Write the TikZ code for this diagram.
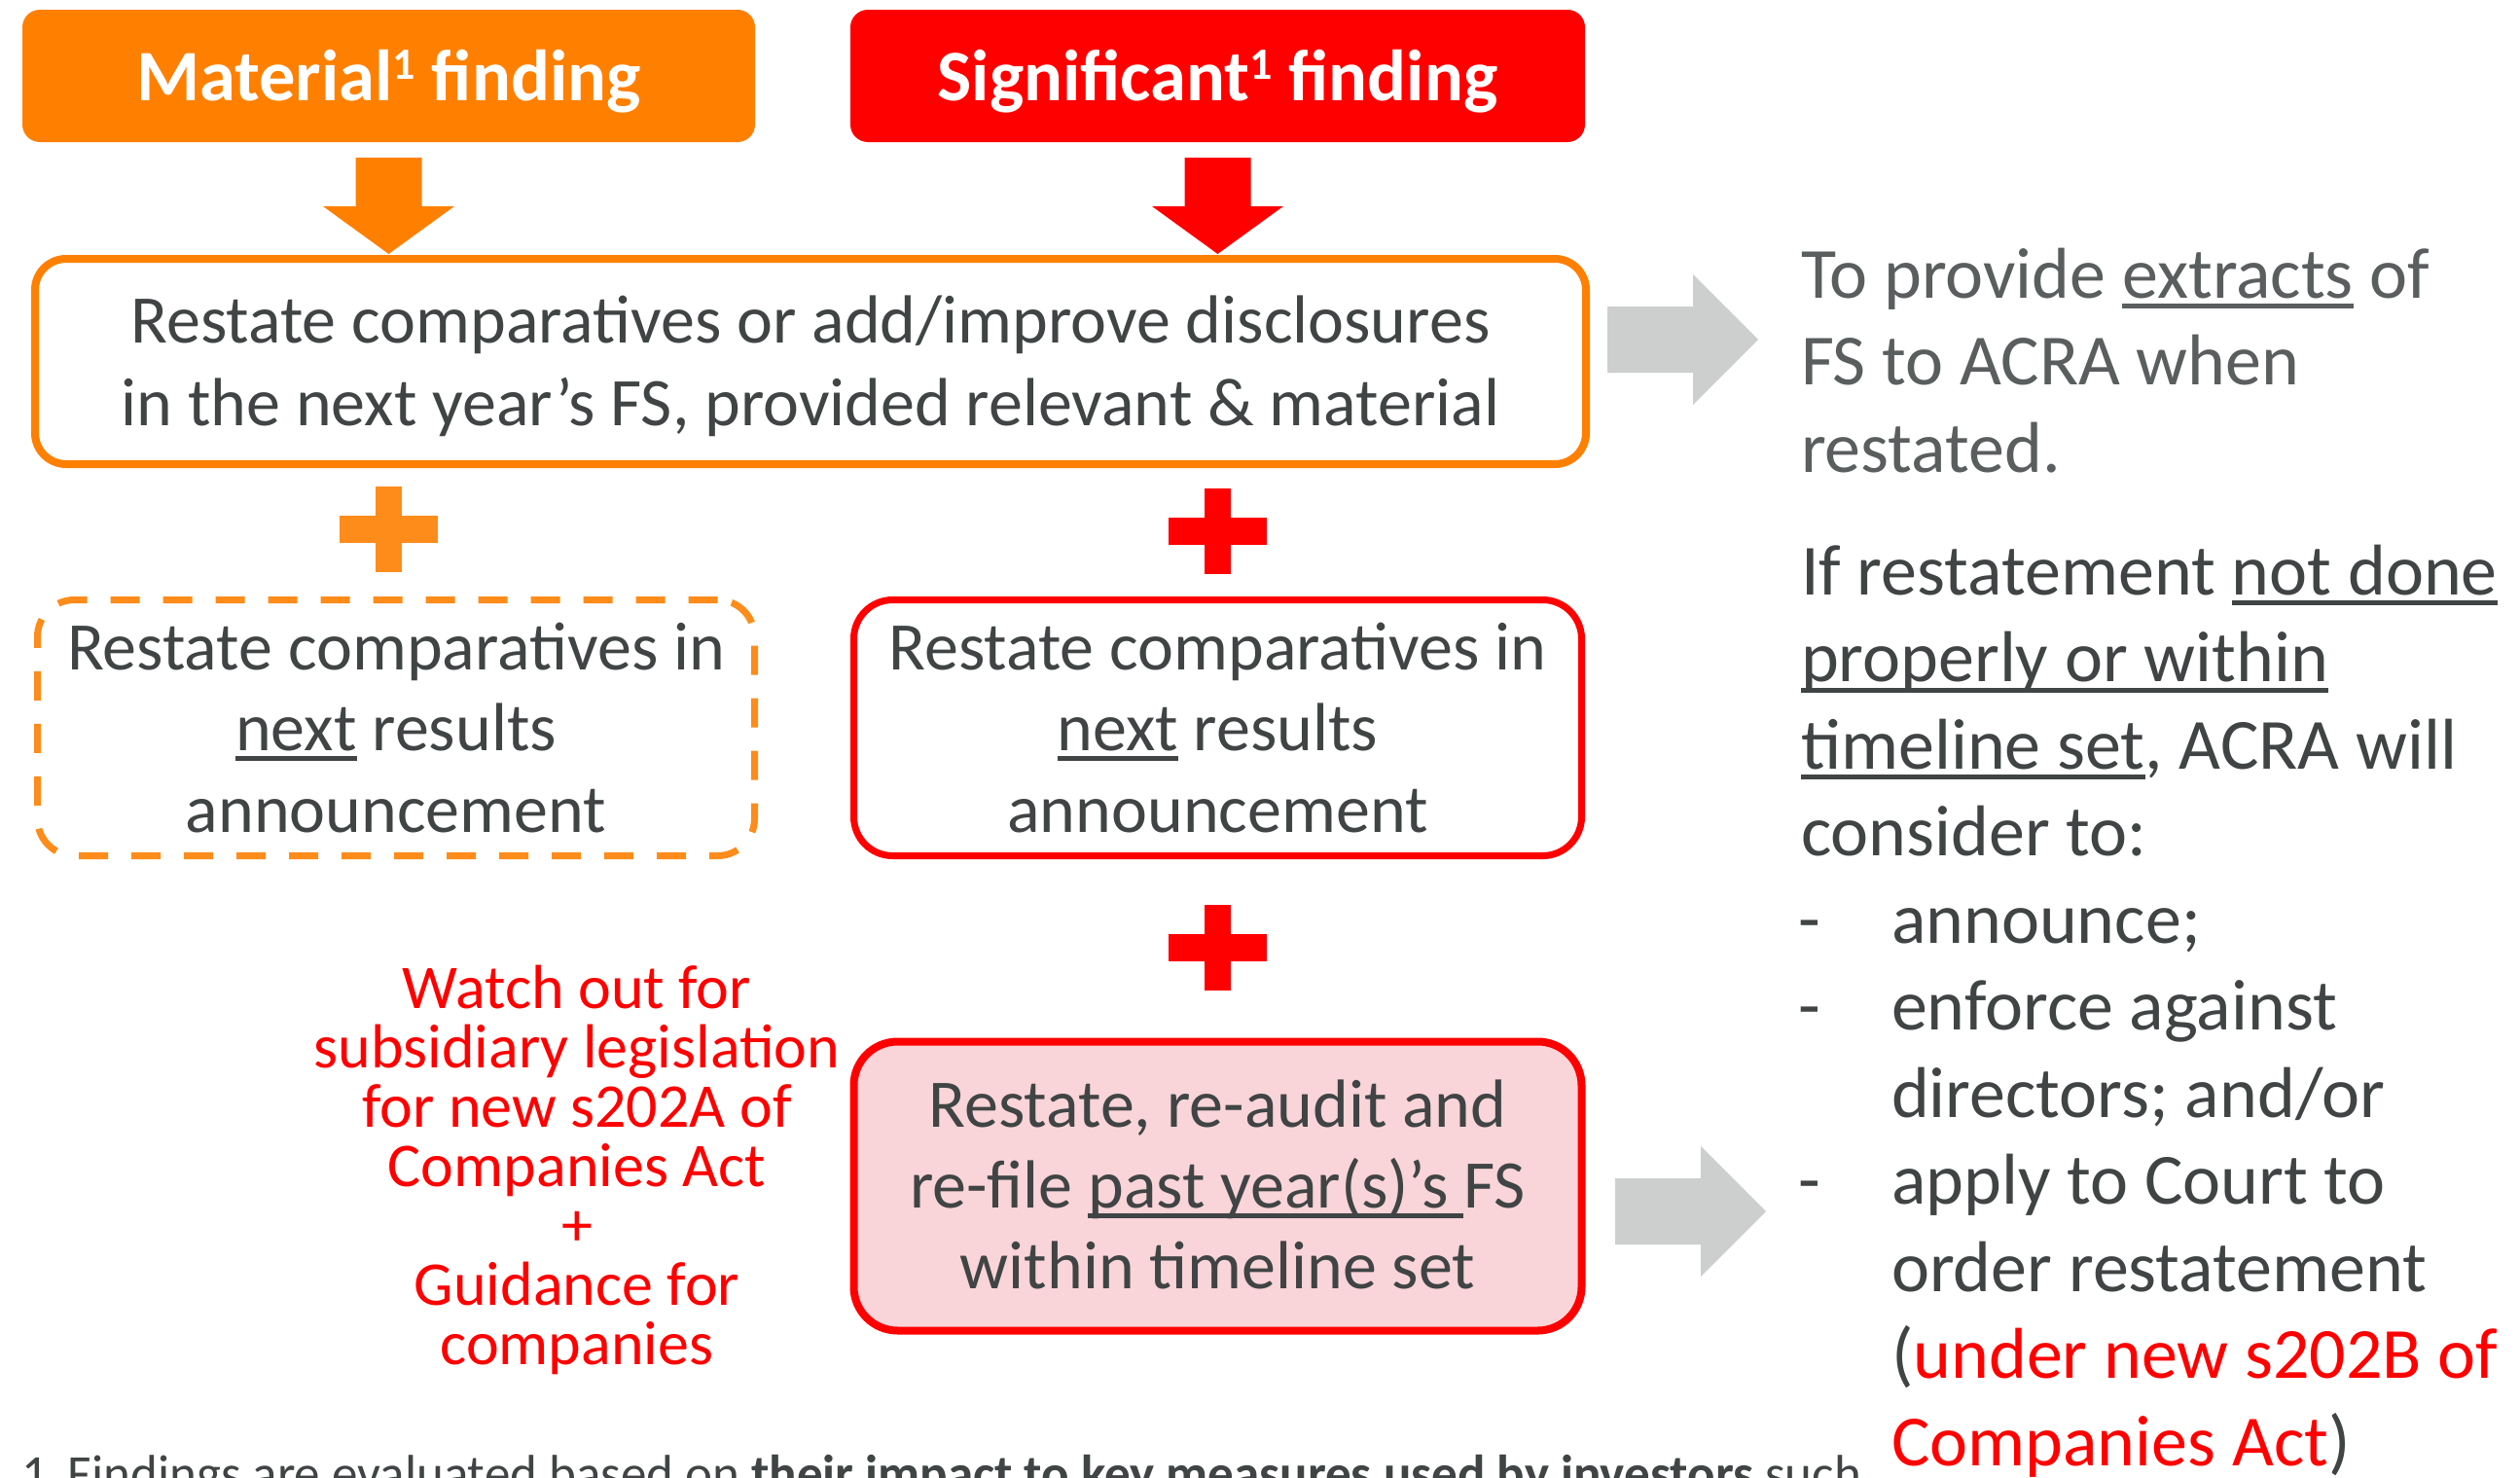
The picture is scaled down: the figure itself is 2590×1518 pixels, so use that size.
\documentclass[tikz,border=0pt]{standalone}
\usepackage{fontspec}
\setmainfont{Carlito}
\usetikzlibrary{calc,backgrounds}

\definecolor{matorange}{HTML}{FF8000}
\definecolor{plusorange}{HTML}{FD8C1A}
\definecolor{sigred}{HTML}{FF0000}
\definecolor{pinkfill}{HTML}{F9D4D8}
\definecolor{arrowgray}{HTML}{CDCFCE}
\definecolor{bodytext}{HTML}{404444}
\definecolor{softtext}{HTML}{5A5E5E}

% underline that cuts through descenders
\newcommand\ulin[1]{\setbox0\hbox{#1}\rlap{\rule[-0.15em]{\wd0}{0.065em}}\box0\relax}
% stacked lines with a fixed baseline distance; the box baseline is the first line
\newcommand\clines[1]{\vtop{\lineskiplimit=-\maxdimen\let\\\cr\halign{\hfil##\hfil\cr#1\crcr}}}
\newcommand\llines[1]{\vtop{\lineskiplimit=-\maxdimen\let\\\cr\halign{##\hfil\cr#1\crcr}}}
\newcommand\dashlist[1]{\vtop{\lineskiplimit=-\maxdimen\let\\\cr\halign{\rlap{##}\hskip96pt&##\hfil\cr#1\crcr}}}
\newcommand\supone{\raisebox{22pt}{\fontsize{46}{46}\selectfont 1}}

% block arrows
\newcommand\downblock[3]{%
  \fill[#1] let \p1=(#2.south), \p2=(#3.north) in
    (\x1-34pt,\y1-16pt) -- (\x1+34pt,\y1-16pt) -- (\x1+34pt,\y2+54pt)
    -- (\x1+67.5pt,\y2+54pt) -- (\x1,\y2+5pt) -- (\x1-67.5pt,\y2+54pt)
    -- (\x1-34pt,\y2+54pt) -- cycle;}
\newcommand\rightblock[2]{%
  \fill[arrowgray] let \p1=(#1), \p2=(#2) in
    (\x1,\y1+34pt) -- (\x2-67pt,\y1+34pt) -- (\x2-67pt,\y1+67pt) -- (\x2,\y1)
    -- (\x2-67pt,\y1-67pt) -- (\x2-67pt,\y1-34pt) -- (\x1,\y1-34pt) -- cycle;}
\newcommand\plusmark[3]{%
  \fill[#3] (#1-13.5,#2-44) rectangle (#1+13.5,#2+44);
  \fill[#3] (#1-50.5,#2-14) rectangle (#1+50.5,#2+14);}

\begin{document}
\begin{tikzpicture}[x=1pt,y=-1pt,
  every node/.style={inner sep=0pt,outer sep=0pt},
  titlebox/.style={rounded corners=18pt,minimum width=#1,minimum height=136pt,
    text=white,font=\fontsize{74.5}{89}\selectfont\bfseries,text height=62pt,text depth=12pt},
  boxtext/.style={text=bodytext,font=\fontsize{70}{#1}\selectfont,anchor=base},
  sidetext/.style={font=\fontsize{74}{89.5}\selectfont,anchor=base west},
  notetext/.style={text=sigred,font=\fontsize{64}{61}\selectfont,anchor=base}]

\useasboundingbox (0,0) rectangle (2590,1518);
\clip (0,0) rectangle (2590,1518);
\fill[white] (0,0) rectangle (2590,1518);

% finding headers
\node[titlebox=753pt,fill=matorange] (mat) at (399.5,78) {Material\supone{} finding};
\node[titlebox=755pt,fill=sigred] (sig) at (1251.5,78) {Significant\supone{} finding};
\begin{scope}[on background layer]
  \foreach \k in {1,...,6}{
    \fill[black,opacity=0.03,rounded corners=20pt]
      ([xshift=-\k pt+2pt,yshift=-2pt-1.4*\k pt]mat.south west) rectangle ([xshift=\k pt+2pt,yshift=-10pt]mat.north east);
    \fill[black,opacity=0.03,rounded corners=20pt]
      ([xshift=-\k pt+2pt,yshift=-2pt-1.4*\k pt]sig.south west) rectangle ([xshift=\k pt+2pt,yshift=-10pt]sig.north east);
  }
\end{scope}

% boxes
\node[draw=matorange,line width=8pt,rounded corners=32pt,minimum width=1594pt,minimum height=211pt] (main) at (833,371.5) {};
\node[draw=plusorange,line width=7pt,dash pattern=on 30pt off 24pt,rounded corners=38pt,minimum width=737pt,minimum height=263pt] (nextm) at (407,748) {};
\node[draw=sigred,line width=7pt,rounded corners=40pt,minimum width=748pt,minimum height=263pt] (nexts) at (1251.5,748) {};
\node[draw=sigred,fill=pinkfill,line width=8pt,rounded corners=45pt,minimum width=748pt,minimum height=297pt] (refile) at (1251.5,1219) {};

% box texts
\node[boxtext=85] (maintext) at (833,352)
  {\clines{Restate comparatives or add/improve disclosures\\in the next year’s FS, provided relevant \& material}};
\node[boxtext=83.5] (nextmtext) at (407,688)
  {\clines{Restate comparatives in\\\ulin{next} results\\announcement}};
\node[boxtext=83.5] (nextstext) at (1251.5,688)
  {\clines{Restate comparatives in\\\ulin{next} results\\announcement}};
\node[boxtext=83] (refiletext) at (1251.5,1158)
  {\clines{Restate, re-audit and\\re-file \ulin{past year(s)’s }FS\\within timeline set}};

% arrows and plus marks
\downblock{matorange}{mat}{main}
\downblock{sigred}{sig}{main}
\plusmark{399}{544}{plusorange}
\plusmark{1251.5}{546}{sigred}
\plusmark{1251.5}{974}{sigred}
\coordinate (g1s) at (1652,349);
\coordinate (g1e) at (1807,349);
\coordinate (g2s) at (1660,1245);
\coordinate (g2e) at (1815,1245);
\rightblock{g1s}{g1e}
\rightblock{g2s}{g2e}

% legislation note
\node[notetext] (note) at (593,1036)
  {\clines{Watch out for\\subsidiary legislation\\for new s202A of\\Companies Act\\+\\Guidance for\\companies}};

% right-hand column
\node[sidetext,text=softtext] (extracts) at (1851,306)
  {\llines{To provide \ulin{extracts} of\\FS to ACRA when\\restated.}};
\node[sidetext,text=bodytext] (ifnot) at (1851,611)
  {\llines{If restatement \ulin{not done}\\\ulin{properly or within}\\\ulin{timeline set}, ACRA will\\consider to:}};
\node[sidetext,text=bodytext] (actions) at (1848,969)
  {\dashlist{-&announce;\\-&enforce against\\&directors; and/or\\-&apply to Court to\\&order restatement\\&(\textcolor{sigred}{under new s202B of}\\&\textcolor{sigred}{Companies Act})}};

% footnote
\node[anchor=base west,text=bodytext,font=\fontsize{53}{64}\selectfont] (fnote) at (22,1532)
  {\makebox[48pt][l]{1}Findings are evaluated based on \textbf{their impact to key measures used by investors} such};
\end{tikzpicture}
\end{document}
